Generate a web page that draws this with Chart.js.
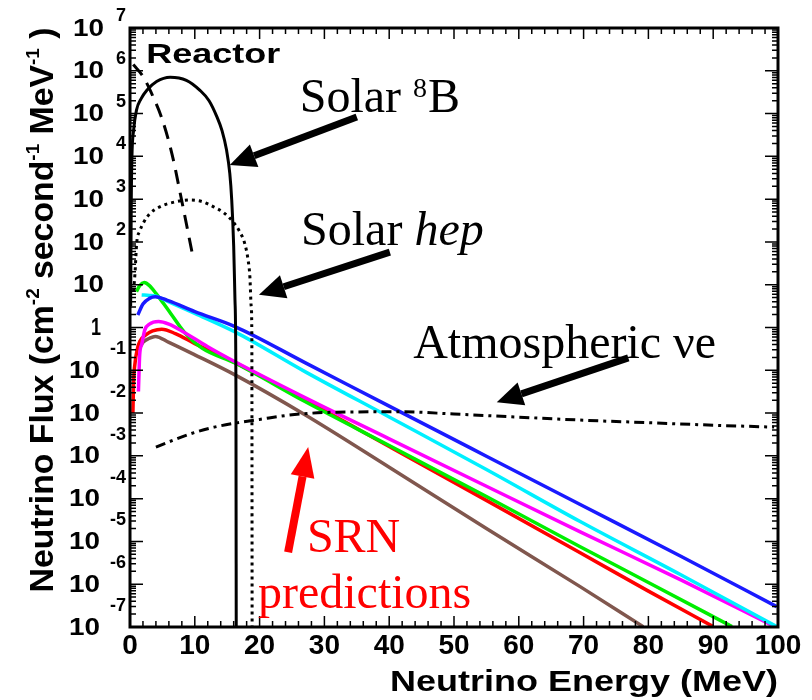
<!DOCTYPE html>
<html>
  <head>
    <title>Neutrino flux spectra</title>
    <script src="https://cdn.jsdelivr.net/npm/chart.js@4.4.0/dist/chart.umd.min.js"></script>
    <style>
      body { margin: 0; background: #fff; }
      #wrap { width: 812px; height: 700px; position: relative; }
    </style>
  </head>
  <body>
    <div id="wrap"><canvas id="myChart"></canvas></div>
    <script>
      // tick labels
      const energyTicks = [0, 10, 20, 30, 40, 50, 60, 70, 80, 90, 100];
      const fluxExponents = [-7, -6, -5, -4, -3, -2, -1, 0, 1, 2, 3, 4, 5, 6, 7];

      // reactor (dashed)
      const reactorE = [0.5, 2, 3.5, 5, 6.5, 8, 9.7];
      const reactorFlux = [1.4e6, 7.4e5, 2.6e5, 7.1e4, 1.1e4, 8.9e2, 46];

      // solar 8B (solid)
      const b8E = [0.1, 0.2, 0.3, 0.55, 1.0, 1.7, 2.6, 4.1, 6.2, 8.7, 10.8, 12.2, 13.4, 14.2, 14.9, 15.4, 15.7, 16.0, 16.2, 16.35, 16.4];
      const b8Flux = [3.2, 1e3, 1e4, 4.0e4, 1.2e5, 2.2e5, 3.5e5, 5.6e5, 7.1e5, 6.0e5, 3.5e5, 2.0e5, 8.5e4, 4.0e4, 1.4e4, 4.0e3, 9.5e2, 80, 4.4, 3e-2, 1e-8];

      // solar hep (dotted)
      const hepE = [0.55, 0.77, 1.03, 1.5, 2.05, 3.0, 4.6, 6.8, 9.3, 11.2, 12.9, 14.5, 15.9, 17.0, 17.7, 18.2, 18.5, 18.7, 18.8, 18.85];
      const hepFlux = [7.1, 18.6, 93, 178, 275, 447, 661, 851, 955, 871, 661, 479, 295, 166, 93, 40, 15.5, 3.2, 0.74, 1e-8];

      // atmospheric nu_e (dash-dot)
      const atmE = [4.0, 6.6, 9.9, 13, 16.5, 20, 25, 31.8, 42, 50, 59.6, 70, 79.5, 90, 99.4];
      const atmFlux = [1.6e-3, 2.3e-3, 3.5e-3, 4.7e-3, 5.9e-3, 7.1e-3, 9.1e-3, 1.05e-2, 1.07e-2, 9.5e-3, 8.1e-3, 6.8e-3, 6.0e-3, 5.2e-3, 4.7e-3];

      // SRN predictions
      const srnBlueE = [1.2, 2, 3, 3.9, 6, 10, 16.2, 27, 40, 55, 69.4, 85, 99.8];
      const srnBlueFlux = [1.95, 3.55, 4.79, 5.25, 4.17, 2.34, 1.05, 0.151, 1.45e-2, 9.8e-4, 7.4e-5, 4.5e-6, 3.0e-7];

      const srnCyanE = [1.8, 3, 4, 6, 10, 16.2, 27, 40, 55, 69.4, 85, 99.8];
      const srnCyanFlux = [5.75, 5.62, 5.37, 3.98, 2.14, 0.79, 9.3e-2, 8.1e-3, 4.8e-4, 2.95e-5, 1.66e-6, 1.02e-7];

      const srnMagentaE = [1.3, 1.5, 1.8, 2.3, 3.0, 4.4, 6, 8, 12, 16.2, 27, 40, 55, 69.4, 85, 99.5];
      const srnMagentaFlux = [3.2e-2, 0.234, 0.40, 0.89, 1.20, 1.38, 1.20, 0.83, 0.355, 0.158, 2.3e-2, 2.5e-3, 1.95e-4, 1.7e-5, 1.26e-6, 1.02e-7];

      const srnGreenE = [1.0, 1.5, 2.2, 3, 4, 5.9, 8.5, 11.1, 16.2, 27, 40, 55, 69.4, 80, 92.9];
      const srnGreenFlux = [6.9, 9.5, 11.2, 9.5, 6.3, 2.57, 0.74, 0.33, 0.148, 1.86e-2, 1.74e-3, 1.12e-4, 7.6e-6, 1.1e-6, 1.02e-7];

      const srnRedE = [0.45, 0.55, 0.8, 1.1, 1.5, 2.5, 3.5, 4.9, 7, 10, 16.2, 27, 40, 55, 69.4, 80, 90];
      const srnRedFlux = [1e-2, 5.0e-2, 0.158, 0.30, 0.47, 0.68, 0.83, 0.91, 0.72, 0.42, 0.151, 2.04e-2, 1.66e-3, 9.1e-5, 5.5e-6, 6.9e-7, 1.02e-7];

      const srnBrownE = [1.3, 2, 3, 3.9, 6, 10, 16.2, 27, 40, 55, 69.4, 79.2];
      const srnBrownFlux = [0.30, 0.45, 0.56, 0.62, 0.45, 0.23, 7.8e-2, 9.1e-3, 5.4e-4, 2.0e-5, 8.9e-7, 1.02e-7];

      function pts(es, fs) {
        return es.map((e, i) => ({ x: e, y: fs[i] }));
      }

      function line(data, color, dash, width) {
        return {
          data: data,
          borderColor: color,
          borderWidth: width || 3.5,
          borderDash: dash || [],
          pointRadius: 0,
          fill: false,
          cubicInterpolationMode: "monotone",
        };
      }

      const SANS = '"Liberation Sans", Arial, sans-serif';
      const SERIF = '"Liberation Serif", "Times New Roman", serif';

      // text squeezed/stretched to a given width
      function fitText(ctx, text, x, y, font, width) {
        ctx.font = font;
        const w = ctx.measureText(text).width;
        ctx.save();
        ctx.translate(x, y);
        ctx.scale(width / w, 1);
        ctx.fillText(text, 0, 0);
        ctx.restore();
      }

      function arrow(ctx, x0, y0, x1, y1, color, width, headLen, headHalf) {
        const ang = Math.atan2(y1 - y0, x1 - x0);
        const bx = x1 - headLen * Math.cos(ang);
        const by = y1 - headLen * Math.sin(ang);
        ctx.strokeStyle = color;
        ctx.fillStyle = color;
        ctx.lineWidth = width;
        ctx.lineCap = "butt";
        ctx.beginPath();
        ctx.moveTo(x0, y0);
        ctx.lineTo(bx, by);
        ctx.stroke();
        ctx.beginPath();
        ctx.moveTo(x1, y1);
        ctx.lineTo(bx + headHalf * Math.sin(ang), by - headHalf * Math.cos(ang));
        ctx.lineTo(bx - headHalf * Math.sin(ang), by + headHalf * Math.cos(ang));
        ctx.closePath();
        ctx.fill();
      }

      const rootFrame = {
        id: "rootFrame",
        afterDraw(chart) {
          const { ctx, chartArea: a } = chart;
          const x = chart.scales.x;
          const y = chart.scales.y;
          ctx.save();

          // inward ticks
          ctx.strokeStyle = "#000";
          ctx.lineWidth = 1.5;
          ctx.beginPath();
          const eMin = fluxExponents[0];
          const eMax = fluxExponents[fluxExponents.length - 1];
          for (let e = eMin; e <= eMax; e++) {
            for (let k = 1; k <= 9; k++) {
              if (e === eMax && k > 1) break;
              const py = y.getPixelForValue(k * Math.pow(10, e));
              const len = k === 1 ? 13 : 6;
              ctx.moveTo(a.left, py);
              ctx.lineTo(a.left + len, py);
              ctx.moveTo(a.right, py);
              ctx.lineTo(a.right - len, py);
            }
          }
          for (let v = 0; v <= 100; v += 2) {
            const px = x.getPixelForValue(v);
            const len = v % 10 === 0 ? 11 : 6;
            ctx.moveTo(px, a.bottom);
            ctx.lineTo(px, a.bottom - len);
            ctx.moveTo(px, a.top);
            ctx.lineTo(px, a.top + len);
          }
          ctx.stroke();

          ctx.lineWidth = 3;
          ctx.strokeRect(a.left, a.top, a.right - a.left, a.bottom - a.top);

          // x tick labels
          ctx.fillStyle = "#000";
          ctx.font = "bold 28px " + SANS;
          ctx.textAlign = "center";
          ctx.textBaseline = "middle";
          energyTicks.forEach((v) => {
            ctx.fillText(String(v), x.getPixelForValue(v), a.bottom + 19);
          });

          // y tick labels, ROOT style 10 + exponent
          ctx.textBaseline = "middle";
          fluxExponents.forEach((e) => {
            const py = y.getPixelForValue(Math.pow(10, e));
            ctx.textAlign = "left";
            if (e === 0) {
              fitText(ctx, "1", a.left - 39, py + 1, "bold 24px " + SANS, 10);
              return;
            }
            const right = e < 0 ? a.left - 30 : a.left - 26;
            fitText(ctx, "10", right - 31, py + 1, "bold 24px " + SANS, 31);
            if (e === 1) return;
            ctx.font = "bold 18px " + SANS;
            ctx.textAlign = "right";
            ctx.fillText(String(e), a.left - 4, py - (e < 0 ? 21 : 12));
          });

          // axis titles
          ctx.textAlign = "left";
          ctx.textBaseline = "alphabetic";
          fitText(ctx, "Neutrino Energy (MeV)", 390, 691, "bold 29px " + SANS, 388);

          const parts = [
            ["Neutrino Flux (cm", false],
            ["-2", true],
            [" second", false],
            ["-1", true],
            [" MeV", false],
            ["-1", true],
            [" )", false],
          ];
          const mainFont = "bold 34px " + SANS;
          const supFont = "bold 19px " + SANS;
          let total = 0;
          parts.forEach((p) => {
            ctx.font = p[1] ? supFont : mainFont;
            total += ctx.measureText(p[0]).width;
          });
          ctx.save();
          ctx.translate(53, 310);
          ctx.rotate(-Math.PI / 2);
          ctx.scale(565 / total, 1);
          let cx = -total / 2;
          parts.forEach((p) => {
            ctx.font = p[1] ? supFont : mainFont;
            ctx.fillText(p[0], cx, p[1] ? -14 : 0);
            cx += ctx.measureText(p[0]).width;
          });
          ctx.restore();

          // annotations, anchored in data units
          const X = (v) => x.getPixelForValue(v);
          const Y = (v) => y.getPixelForValue(v);

          fitText(ctx, "Reactor", X(2.5), Y(1.5e6), "bold 28px " + SANS, 134);

          ctx.font = "48px " + SERIF;
          let tx = X(26.2);
          const ty8 = Y(1.1e5);
          ctx.fillText("Solar ", tx, ty8);
          tx += ctx.measureText("Solar ").width;
          ctx.font = "28px " + SERIF;
          ctx.fillText("8", tx, ty8 - 15);
          tx += ctx.measureText("8").width + 1;
          ctx.font = "48px " + SERIF;
          ctx.fillText("B", tx, ty8);

          const tyh = Y(85);
          tx = X(26.4);
          ctx.fillText("Solar ", tx, tyh);
          tx += ctx.measureText("Solar ").width;
          ctx.font = "italic 48px " + SERIF;
          ctx.fillText("hep", tx, tyh);

          ctx.font = "48px " + SERIF;
          ctx.fillText("Atmospheric \u03bde", X(43.7), Y(0.195));

          arrow(ctx, X(35.0), Y(8.3e4), X(15.4), Y(6.3e3), "#000", 7, 26, 12);
          arrow(ctx, X(40.1), Y(58), X(19.9), Y(5.8), "#000", 7, 26, 12);
          arrow(ctx, X(76.9), Y(0.195), X(56.6), Y(1.8e-2), "#000", 7, 26, 12);

          ctx.fillStyle = "#ff0000";
          ctx.font = "48px " + SERIF;
          ctx.fillText("SRN", X(27.3), Y(5.6e-6));
          ctx.fillText("predictions", X(19.75), Y(2.8e-7));
          arrow(ctx, X(24.4), Y(5.6e-6), X(27.5), Y(1.6e-3), "#ff0000", 8, 30, 12);

          ctx.restore();
        },
      };

      const chart = new Chart(document.getElementById("myChart"), {
        type: "line",
        data: {
          datasets: [
            line(pts(b8E, b8Flux), "#000000", [], 3),
            line(pts(reactorE, reactorFlux), "#000000", [14, 9], 3),
            line(pts(hepE, hepFlux), "#000000", [3, 4], 3),
            line(pts(atmE, atmFlux), "#000000", [10, 5, 3, 5], 3),
            line(pts(srnBlueE, srnBlueFlux), "#1a1aff"),
            line(pts(srnCyanE, srnCyanFlux), "#00f0ff"),
            line(pts(srnMagentaE, srnMagentaFlux), "#ff00ff"),
            line(pts(srnGreenE, srnGreenFlux), "#00ee00"),
            line(pts(srnRedE, srnRedFlux), "#ff0000"),
            line(pts(srnBrownE, srnBrownFlux), "#80574e"),
          ],
        },
        options: {
          responsive: true,
          maintainAspectRatio: false,
          animation: false,
          layout: { padding: { left: 130, right: 34, top: 28, bottom: 73 } },
          plugins: { legend: { display: false }, tooltip: { enabled: false } },
          scales: {
            x: { type: "linear", min: 0, max: 100, display: false },
            y: { type: "logarithmic", min: 1e-7, max: 1e7, display: false },
          },
        },
        plugins: [rootFrame],
      });
    </script>
  </body>
</html>
